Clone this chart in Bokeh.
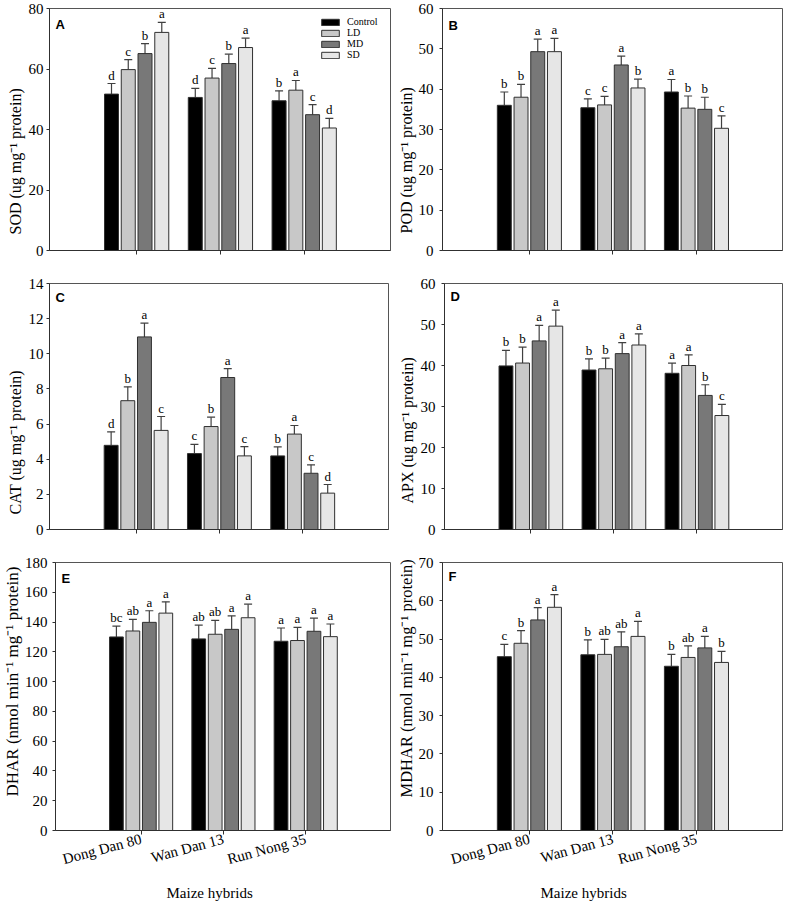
from bokeh.plotting import figure
from bokeh.models import (ColumnDataSource, Range1d, FixedTicker, Whisker, TeeHead,
                          Label, Legend, LegendItem, Title)
from bokeh.layouts import column, row
from bokeh.embed import file_html
from bokeh.resources import INLINE
from bokeh.core.properties import value

# ---------------- data ----------------
hybrids = ["Dong Dan 80", "Wan Dan 13", "Run Nong 35"]
treatments = ["Control", "LD", "MD", "SD"]

sod_mean = {"Control": [51.7, 50.6, 49.5], "LD": [59.8, 57.0, 53.0],
            "MD": [65.1, 61.8, 44.9], "SD": [72.1, 67.1, 40.5]}
sod_err = {"Control": [3.5, 3.0, 3.3], "LD": [3.3, 3.2, 3.2],
           "MD": [3.3, 3.1, 3.3], "SD": [3.3, 3.1, 3.2]}
sod_let = {"Control": ["d", "d", "b"], "LD": ["c", "c", "a"],
           "MD": ["b", "b", "c"], "SD": ["a", "a", "d"]}

pod_mean = {"Control": [36.0, 35.4, 39.3], "LD": [38.0, 36.1, 35.3],
            "MD": [49.3, 46.0, 35.0], "SD": [49.3, 40.3, 30.3]}
pod_err = {"Control": [3.3, 2.2, 3.1], "LD": [3.2, 2.1, 3.0],
           "MD": [3.1, 2.2, 3.0], "SD": [3.3, 2.2, 3.1]}
pod_let = {"Control": ["b", "c", "a"], "LD": ["b", "c", "b"],
           "MD": ["a", "a", "b"], "SD": ["a", "b", "c"]}

cat_mean = {"Control": [4.79, 4.32, 4.19], "LD": [7.33, 5.86, 5.43],
            "MD": [10.96, 8.65, 3.20], "SD": [5.64, 4.19, 2.07]}
cat_err = {"Control": [0.77, 0.53, 0.51], "LD": [0.79, 0.53, 0.49],
           "MD": [0.79, 0.50, 0.48], "SD": [0.79, 0.53, 0.49]}
cat_let = {"Control": ["d", "c", "b"], "LD": ["b", "b", "a"],
           "MD": ["a", "a", "c"], "SD": ["c", "c", "d"]}

apx_mean = {"Control": [39.9, 38.9, 38.1], "LD": [40.6, 39.2, 40.0],
            "MD": [46.0, 42.9, 32.7], "SD": [49.6, 45.0, 27.8]}
apx_err = {"Control": [3.8, 2.7, 2.5], "LD": [3.9, 2.6, 2.6],
           "MD": [3.8, 2.7, 2.6], "SD": [3.9, 2.7, 2.7]}
apx_let = {"Control": ["b", "b", "a"], "LD": ["b", "b", "a"],
           "MD": ["a", "a", "b"], "SD": ["a", "a", "c"]}

dhar_mean = {"Control": [130.0, 128.7, 127.1], "LD": [134.0, 131.8, 127.6],
             "MD": [139.8, 135.1, 133.8], "SD": [146.0, 142.9, 130.2]}
dhar_err = {"Control": [7.3, 9.3, 8.9], "LD": [7.8, 9.3, 8.8],
            "MD": [7.8, 9.1, 8.9], "SD": [7.6, 9.1, 8.5]}
dhar_let = {"Control": ["bc", "ab", "a"], "LD": ["ab", "ab", "a"],
            "MD": ["a", "a", "a"], "SD": ["a", "a", "a"]}

mdhar_mean = {"Control": [45.4, 45.9, 42.9], "LD": [48.9, 46.0, 45.2],
              "MD": [55.0, 48.0, 47.7], "SD": [58.3, 50.7, 43.9]}
mdhar_err = {"Control": [3.2, 3.9, 3.1], "LD": [3.3, 3.9, 3.0],
             "MD": [3.2, 3.9, 3.0], "SD": [3.3, 3.9, 2.9]}
mdhar_let = {"Control": ["c", "b", "b"], "LD": ["b", "ab", "ab"],
             "MD": ["a", "ab", "a"], "SD": ["a", "a", "b"]}

colors = {"Control": "#000000", "LD": "#c8c8c8", "MD": "#787878", "SD": "#e6e6e6"}
offsets = {"Control": -0.3, "LD": -0.1, "MD": 0.1, "SD": 0.3}
BAR_W = 0.167
SERIF = "Liberation Serif"


def make_panel(letter, ylabel, ymax, ystep, means, errs, lets, width, height,
               b_left, b_right, b_top, b_bottom, tick_standoff,
               ylab_offset, ylab_standoff, ylab_size="16px",
               bottom_labels=False, xlab_offset=0, legend=False):
    p = figure(width=width, height=height, x_range=Range1d(-0.04, 4.03),
               y_range=Range1d(0, ymax), output_backend="svg",
               toolbar_location=None, min_border_left=b_left,
               min_border_right=b_right, min_border_top=b_top,
               min_border_bottom=b_bottom, background_fill_color="white",
               border_fill_color="white")
    p.xgrid.visible = False
    p.ygrid.visible = False
    p.outline_line_color = "#555555"
    p.outline_line_width = 1

    renderers = {}
    for t in treatments:
        xs = [k + 1 + offsets[t] for k in range(len(hybrids))]
        up = [m + e for m, e in zip(means[t], errs[t])]
        src = ColumnDataSource(dict(x=xs, top=means[t], upper=up, lab=lets[t]))
        r = p.vbar(x="x", top="top", bottom=0, width=BAR_W, source=src,
                   fill_color=colors[t], line_color="#303030", line_width=1)
        renderers[t] = r
        w = Whisker(base="x", upper="upper", lower="top", source=src,
                    dimension="height", line_color="#404040", line_width=1.2,
                    upper_head=TeeHead(size=8, line_color="#404040", line_width=1.2),
                    lower_head=None)
        p.add_layout(w)
        p.text(x="x", y="upper", text="lab", source=src, text_align="center",
               text_baseline="bottom", y_offset=-1, text_font=value(SERIF),
               text_font_size="13px", text_color="black")

    for ax in (p.xaxis[0], p.yaxis[0]):
        ax.major_tick_in = 0
        ax.major_tick_out = 4
        ax.minor_tick_in = 0
        ax.minor_tick_out = 0
        ax.axis_line_color = "#303030"
        ax.major_tick_line_color = "#303030"

    yax = p.yaxis[0]
    yax.ticker = FixedTicker(ticks=list(range(0, ymax + 1, ystep)))
    yax.major_tick_out = 3
    yax.major_label_text_font = SERIF
    yax.major_label_text_font_size = "15px"
    yax.major_label_text_color = "black"
    yax.major_label_standoff = tick_standoff

    xax = p.xaxis[0]
    xax.ticker = FixedTicker(ticks=[1, 2, 3])
    if bottom_labels:
        xax.major_label_overrides = {i + 1: h for i, h in enumerate(hybrids)}
        xax.major_label_text_font = SERIF
        xax.major_label_text_font_size = "15px"
        xax.major_label_text_color = "black"
        xax.major_label_orientation = 0.2618
        xax.major_label_standoff = 4
    else:
        xax.major_label_overrides = {1: "", 2: "", 3: ""}
        xax.major_label_text_font_size = "1px"
        xax.major_label_standoff = 1

    fh = height - b_top - b_bottom

    # y axis title, placed like the original (not centred)
    p.add_layout(Title(text=ylabel, align="left", offset=ylab_offset,
                       standoff=ylab_standoff, text_font=SERIF,
                       text_font_size=ylab_size, text_font_style="normal",
                       text_color="black"), "left")
    if bottom_labels:
        p.add_layout(Title(text="Maize hybrids", align="left", offset=xlab_offset,
                           standoff=11, text_font=SERIF, text_font_size="15px",
                           text_font_style="normal", text_color="black"), "below")

    # panel letter
    p.add_layout(Label(x=6, y=fh - 9, x_units="screen", y_units="screen",
                       text=letter, text_baseline="top", text_align="left",
                       text_font="Liberation Sans", text_font_style="bold",
                       text_font_size="13px", text_color="black"))

    if legend:
        items = [LegendItem(label=t, renderers=[renderers[t]]) for t in treatments]
        lg = Legend(items=items, location=(270, fh - 5 - 48),
                    border_line_color=None, background_fill_alpha=0,
                    padding=0, margin=0, spacing=0, glyph_width=22,
                    glyph_height=8, label_height=11, label_standoff=6,
                    label_text_font=SERIF, label_text_font_size="10px",
                    label_text_color="black")
        p.add_layout(lg)
    return p


LW, RW = 394, 391
pA = make_panel("A", "SOD (ug mg\u207b\u00b9 protein)", 80, 20, sod_mean, sod_err, sod_let,
                LW, 270, 49, 4, 8, 19, 3, 16, 4, legend=True)
pB = make_panel("B", "POD (ug mg\u207b\u00b9 protein)", 60, 10, pod_mean, pod_err, pod_let,
                RW, 270, 48, 3, 8, 20, 6, 17, 2)
pC = make_panel("C", "CAT (ug mg\u207b\u00b9 protein)", 14, 2, cat_mean, cat_err, cat_let,
                LW, 280, 49, 6, 13, 18, 3, 15, 4)
pD = make_panel("D", "APX (ug mg\u207b\u00b9 protein)", 60, 10, apx_mean, apx_err, apx_let,
                RW, 280, 48, 3, 9, 21, 6, 26, 4)
pE = make_panel("E", "DHAR (nmol min\u207b\u00b9 mg\u207b\u00b9 protein)", 180, 20,
                dhar_mean, dhar_err, dhar_let, LW, 356, 52, 4, 12, 75, 5,
                34, 0, ylab_size="17px", bottom_labels=True, xlab_offset=111)
pF = make_panel("F", "MDHAR (nmol min\u207b\u00b9 mg\u207b\u00b9 protein)", 70, 10,
                mdhar_mean, mdhar_err, mdhar_let, RW, 356, 48, 3, 10, 75, 6,
                33, 0, ylab_size="16.5px", bottom_labels=True, xlab_offset=98)

layout = column(row(pA, pB), row(pC, pD), row(pE, pF))
open("out.html", "w").write(file_html(layout, INLINE))
